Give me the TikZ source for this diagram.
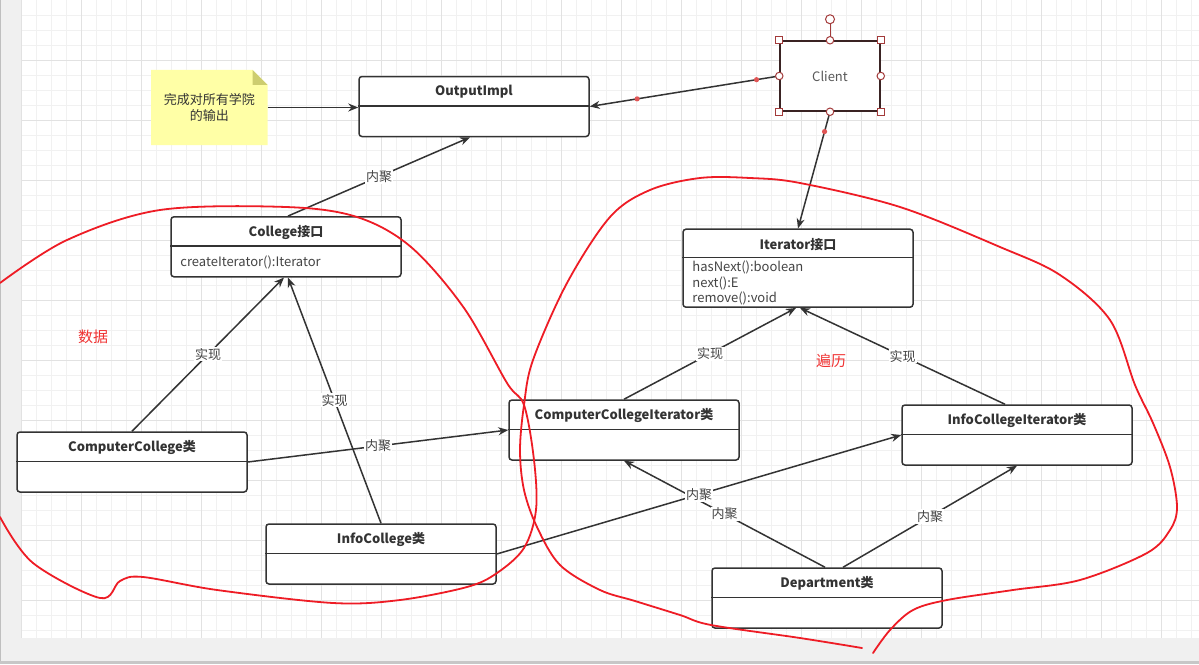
\documentclass[tikz,border=0pt]{standalone}
\usepackage{fontspec}
\setmainfont{Noto Sans CJK SC}
\usetikzlibrary{arrows.meta,calc}
\definecolor{boxc}{HTML}{333333}
\definecolor{txt}{HTML}{333333}
\definecolor{txt2}{HTML}{444444}
\definecolor{gridminor}{HTML}{F1F1F1}
\definecolor{gridmajor}{HTML}{E2E2E2}
\definecolor{frame}{HTML}{F0F0F0}
\definecolor{notec}{HTML}{FFFFA6}
\definecolor{notefold}{HTML}{CDCD6F}
\definecolor{redc}{HTML}{EE1C25}
\definecolor{redtxt}{HTML}{F03232}
\definecolor{clientc}{HTML}{3A2323}
\definecolor{handlec}{HTML}{A33A3A}
\definecolor{dotc}{HTML}{E05555}
\tikzset{
  umlbox/.style={draw=boxc, line width=1.5pt, fill=white, rounded corners=3pt,
    minimum width=230pt, minimum height=60pt, inner sep=0pt},
  divider/.style={draw=boxc, line width=1.5pt},
  ttl/.style={font=\bfseries\fontsize{13}{15}\selectfont, text=txt},
  attr/.style={font=\fontsize{13}{15}\selectfont, text=txt2, anchor=west, inner sep=0pt},
  conn/.style={draw=boxc, line width=1.5pt, -{Stealth[length=10pt,width=8pt]}},
  lbl/.style={fill=white, inner sep=1pt, font=\fontsize{13}{15}\selectfont, text=txt2},
  redline/.style={draw=redc, line width=1.8pt, line cap=round, line join=round},
  redlabel/.style={font=\fontsize{15}{17}\selectfont, text=redtxt},
  handlesq/.style={draw=handlec, fill=white, line width=1pt, minimum size=7pt, inner sep=0pt},
  handlecirc/.style={draw=handlec, fill=white, line width=1pt, circle, minimum size=7.5pt, inner sep=0pt},
}
\begin{document}
\begin{tikzpicture}[x=1pt,y=-1pt]
\useasboundingbox (0,0) rectangle (1199,664);
% frame and canvas
\fill[frame] (0,0) rectangle (1199,664);
\fill[white] (21.7,0) rectangle (1199,637.7);
\foreach \i in {0,...,78} {
  \pgfmathsetmacro{\xx}{21.7+15*\i}
  \draw[gridminor, line width=0.8pt] (\xx,0) -- (\xx,637.7);
}
\foreach \j in {1,...,42} {
  \draw[gridminor, line width=0.8pt] (21.7,15*\j) -- (1199,15*\j);
}
\foreach \i in {0,...,19} {
  \pgfmathsetmacro{\xx}{21.7+60*\i}
  \draw[gridmajor, line width=0.8pt] (\xx,0) -- (\xx,637.7);
}
\foreach \j in {1,...,10} {
  \draw[gridmajor, line width=0.8pt] (21.7,60*\j) -- (1199,60*\j);
}
\fill[frame] (0,637.7) rectangle (1199,664);
\fill[black!22] (0,661) rectangle (1199,664);
\draw[black!25, line width=1pt] (0.5,0) -- (0.5,661);

% note
\node[minimum width=116pt, minimum height=75pt, inner sep=0pt] (note) at (209.3,107.5) {};
\fill[notec] (note.north west) -- ($(note.north east)+(-15,0)$) -- ($(note.north east)+(0,15)$) -- (note.south east) -- (note.south west) -- cycle;
\fill[notefold] ($(note.north east)+(-15,0)$) -- ($(note.north east)+(0,15)$) -- ($(note.north east)+(-15,15)$) -- cycle;
\node[align=center, font=\fontsize{13}{16}\selectfont, text=txt] at (note.center) {完成对所有学院\\的输出};

% class boxes
\node[umlbox] (oi) at (474,106.5) {};
\node[umlbox] (college) at (286,246.8) {};
\node[umlbox, minimum height=78pt] (iter) at (798,268.2) {};
\node[umlbox] (cci) at (624,430) {};
\node[umlbox] (ici) at (1017,435) {};
\node[umlbox] (cc) at (132,462) {};
\node[umlbox] (ic) at (381,554) {};
\node[umlbox] (dep) at (827,598) {};

\foreach \b/\t in {oi/OutputImpl, college/College接口, cci/ComputerCollegeIterator类, ici/InfoCollegeIterator类, cc/ComputerCollege类, ic/InfoCollege类, dep/Department类} {
  \draw[divider] ($(\b.north west)+(0,30)$) -- ($(\b.north east)+(0,30)$);
  \node[ttl] at ($(\b.north)+(0,16)$) {\t};
}
\draw[divider] ($(iter.north west)+(0,29)$) -- ($(iter.north east)+(0,29)$);
\node[ttl] at ($(iter.north)+(0,16)$) {Iterator接口};
\node[attr] at ($(college.north west)+(10,46)$) {createIterator():Iterator};
\node[attr] at ($(iter.north west)+(10,39.5)$) {hasNext():boolean};
\node[attr] at ($(iter.north west)+(10,55)$) {next():E};
\node[attr] at ($(iter.north west)+(10,70.5)$) {remove():void};

% client
\node[draw=clientc, line width=1.5pt, fill=white, minimum width=100pt, minimum height=70pt, inner sep=0pt,
  font=\fontsize{13}{15}\selectfont, text=black!65] (client) at (830,76) {Client};

% connectors
\draw[conn] (note.east) -- (note.east -| oi.west);
\draw[conn] (client.west) -- (oi.east);
\draw[conn] (client.south) -- (iter.north);
\draw[conn] ($(college.north)+(2,0)$) -- node[lbl, pos=0.5] {内聚} ($(oi.south)+(-4,0)$);
\draw[conn] (cc.north) -- node[lbl, pos=0.5] {实现} ($(college.south)+(-2,0)$);
\draw[conn] (ic.north) -- node[lbl, pos=0.5] {实现} ($(college.south)+(2,0)$);
\draw[conn] (cc.east) -- node[lbl, pos=0.5] {内聚} (cci.west);
\draw[conn] ($(dep.north)+(-2,0)$) -- node[lbl, pos=0.5] {内聚} (cci.south);
\draw[conn] (ic.east) -- node[lbl, pos=0.5] {内聚} (ici.west);
\draw[conn] ($(dep.north)+(16,0)$) -- node[lbl, pos=0.5] {内聚} (ici.south);
\draw[conn] (cci.north) -- node[lbl, pos=0.5] {实现} ($(iter.south)+(-2,0)$);
\draw[conn] ($(ici.north)+(-12,0)$) -- node[lbl, pos=0.5] {实现} ($(iter.south)+(2,0)$);

% selection handles on client
\fill[dotc] ($(client.west)!0.12!(oi.east)$) circle (2.6);
\fill[dotc] ($(client.west)!0.75!(oi.east)$) circle (2.6);
\fill[dotc] ($(client.south)!0.17!(iter.north)$) circle (2.6);
\coordinate (rot) at ($(client.north)+(0,-21)$);
\draw[handlec, line width=1pt] (client.north) -- ($(rot)+(0,4.5)$);
\node[handlecirc, minimum size=9pt] at (rot) {};
\foreach \a in {north west, north east, south west, south east} {
  \node[handlesq] at (client.\a) {};
}
\foreach \a in {north, south, west, east} {
  \node[handlecirc] at (client.\a) {};
}

% red annotations
\node[redlabel] at (93,337) {数据};
\node[redlabel] at (831,361) {遍历};
\draw[redline] plot[smooth, tension=0.55] coordinates {
  (0,283) (67,240) (160,210) (286,207) (357,217) (411,247) (464,308) (507,383)
  (524,405) (534,460) (536,510) (524,548) (497,573) (467,587) (400,600) (333,603)
  (217,590) (143,577) (120,581) (100,598) (33,563) (0,517)};
\draw[redline] plot[smooth, tension=0.55] coordinates {
  (873,653) (890,630) (913,610) (947,600) (1013,590) (1080,580) (1147,553) (1170,530)
  (1177,507) (1170,467) (1153,423) (1135,385) (1110,320) (1060,275) (1000,247) (900,207)
  (800,183) (750,178) (700,178) (650,190) (610,217) (567,283) (533,360) (524,405)
  (520,450) (524,490) (537,527) (560,565) (600,590) (635,601) (680,615) (711,625)
  (800,638) (862,648)};
\end{tikzpicture}
\end{document}
